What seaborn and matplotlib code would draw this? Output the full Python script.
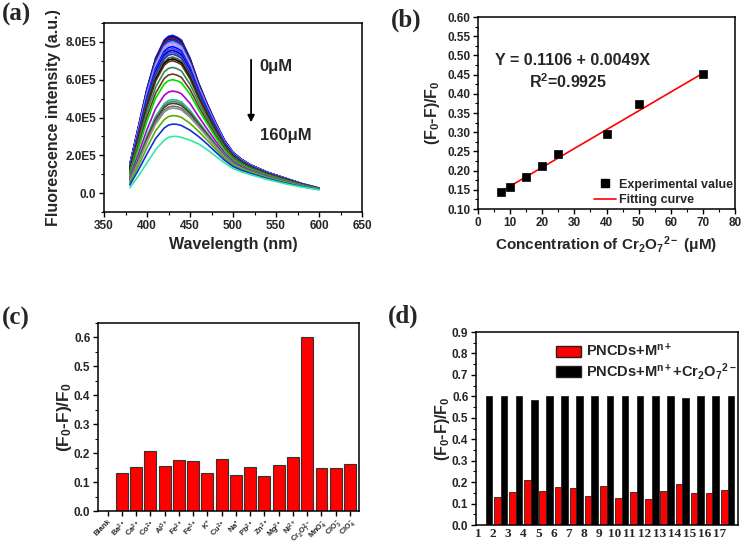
import numpy as np
import pandas as pd
import matplotlib
matplotlib.use('Agg')
import matplotlib.pyplot as plt
import seaborn as sns
from matplotlib.ticker import MultipleLocator, FixedLocator, FuncFormatter
from matplotlib.lines import Line2D
from matplotlib.patches import Patch

sns.set_theme(style='ticks')
plt.rcParams['font.family'] = ['Liberation Sans', 'DejaVu Sans']
plt.rcParams['font.weight'] = 'bold'
plt.rcParams['axes.labelweight'] = 'bold'
plt.rcParams['mathtext.fontset'] = 'custom'
plt.rcParams['mathtext.rm'] = 'Liberation Sans:bold'
plt.rcParams['mathtext.bf'] = 'Liberation Sans:bold'
plt.rcParams['mathtext.it'] = 'Liberation Sans:bold'
plt.rcParams['mathtext.default'] = 'bf'
plt.rcParams['xtick.direction'] = 'out'
plt.rcParams['ytick.direction'] = 'out'

# ---------------- data ----------------
# (a) emission spectra (intensity in units of 1E5)
wavelength = [380, 390, 400, 410, 420, 425, 430, 435, 440, 450, 460, 470, 480, 490, 500, 510, 520,
              540, 560, 580, 600]
spec_0uM = [1.5, 3.5, 5.5, 7.1, 8.05, 8.25, 8.3, 8.2, 8.05, 7.1, 5.8, 4.7, 3.7, 2.8, 2.15, 1.78, 1.5,
            1.1, 0.8, 0.5, 0.26]
spec_160uM = [0.28, 0.9, 1.6, 2.3, 2.8, 2.95, 3.0, 3.0, 2.95, 2.8, 2.6, 2.3, 1.95, 1.6, 1.3, 1.12, 0.98,
              0.72, 0.5, 0.32, 0.18]
peak_values = [8.35, 8.3, 8.25, 8.2, 8.15, 8.1, 8.05, 8.0, 7.95, 7.85, 7.75, 7.65, 7.55, 7.45, 7.35,
               7.2, 7.1, 7.0, 6.65, 6.3, 6.0, 5.4, 4.95, 4.85, 4.75, 4.6, 4.5, 4.1, 3.65, 3.0]
curve_colors = ['#1040C0', '#0000FF', '#000080', '#FF0000', '#0000CD', '#008000', '#2020FF', '#8080FF',
                '#9999FF', '#B0A0FF', '#0000FF', '#4040FF', '#0000A0', '#2050E0', '#3030C0', '#556B2F',
                '#000000', '#5C3317', '#2E8B57', '#6B3A1F', '#00E000', '#B000D0', '#10C0D0', '#6B8E23',
                '#404040', '#707070', '#909090', '#5AAE00', '#1030E0', '#30E8A8']

# (b) calibration
conc = [7, 10, 15, 20, 25, 40, 50, 70]
quench = [0.145, 0.158, 0.183, 0.211, 0.243, 0.295, 0.373, 0.452]
fit_intercept = 0.1106
fit_slope = 0.0049

# (c) selectivity
ions = ['Blank', 'Ba$^{2+}$', 'Ca$^{2+}$', 'Co$^{2+}$', 'Al$^{3+}$', 'Fe$^{2+}$', 'Fe$^{3+}$', 'K$^{+}$',
        'Cu$^{2+}$', 'Na$^{+}$', 'Pb$^{2+}$', 'Zn$^{2+}$', 'Mg$^{2+}$', 'Ni$^{2+}$',
        'Cr$_2$O$_7^{2-}$', 'MnO$_4^{-}$', 'ClO$_3^{-}$', 'ClO$_4^{-}$']
ion_values = [0.0, 0.131, 0.153, 0.209, 0.158, 0.177, 0.175, 0.133, 0.181, 0.127, 0.152, 0.121,
              0.159, 0.189, 0.601, 0.151, 0.150, 0.164]

# (d) interference
groups = [str(i) for i in range(1, 18)]
metal_only = [0.0, 0.131, 0.153, 0.209, 0.158, 0.177, 0.174, 0.133, 0.181, 0.127, 0.152, 0.121,
              0.159, 0.189, 0.151, 0.150, 0.164]
metal_cr = [0.601, 0.601, 0.601, 0.583, 0.601, 0.601, 0.601, 0.601, 0.601, 0.601, 0.601, 0.601,
            0.601, 0.593, 0.601, 0.601, 0.601]
series_names = ['PNCDs+M$^{n+}$', 'PNCDs+M$^{n+}$+Cr$_2$O$_7$$^{2-}$']

# ---------------- figure ----------------
fig = plt.figure(figsize=(7.44, 5.44), dpi=100)
axa = fig.add_axes([0.1398, 0.6103, 0.3468, 0.3474])
axb = fig.add_axes([0.6425, 0.6158, 0.3454, 0.3529])
axc = fig.add_axes([0.1317, 0.060, 0.3508, 0.3463])
axd = fig.add_axes([0.6398, 0.0349, 0.3522, 0.3548])

TICK_FS = 8.5
LABEL_FS = 11.5

def style(ax):
    for s in ax.spines.values():
        s.set_color('black')
        s.set_linewidth(1.1)
    ax.tick_params(which='major', length=3.5, width=1.0, color='black', labelsize=TICK_FS, pad=2)
    ax.tick_params(which='minor', length=2, width=0.8, color='black')
    for lab in ax.get_xticklabels() + ax.get_yticklabels():
        lab.set_fontweight('bold')

# (a)
rows = []
lo = np.array(spec_160uM)
hi = np.array(spec_0uM)
for k, pk in enumerate(peak_values):
    w = (pk - max(lo)) / (max(hi) - max(lo))
    vals = (lo + w * (hi - lo)) * 1e5
    for wl, v in zip(wavelength, vals):
        rows.append({'wavelength': wl, 'intensity': v, 'curve': k})
dfa = pd.DataFrame(rows)
sns.lineplot(data=dfa, x='wavelength', y='intensity', hue='curve', palette=curve_colors,
             legend=False, estimator=None, linewidth=1.2, ax=axa)
axa.set_xlim(350, 650)
axa.set_ylim(-1e5, 9e5)
axa.xaxis.set_major_locator(MultipleLocator(50))
axa.xaxis.set_minor_locator(MultipleLocator(25))
axa.yaxis.set_major_locator(FixedLocator([0, 2e5, 4e5, 6e5, 8e5]))
axa.yaxis.set_minor_locator(MultipleLocator(1e5))
axa.yaxis.set_major_formatter(FuncFormatter(lambda v, p: '0.0' if v == 0 else f'{v/1e5:.1f}E5'))
axa.set_xlabel('Wavelength (nm)', fontsize=LABEL_FS, fontweight='bold')
axa.set_ylabel('Fluorescence intensity (a.u.)', fontsize=LABEL_FS, fontweight='bold', labelpad=3)
axa.annotate('', xy=(521, 3.6e5), xytext=(521, 7.2e5),
             arrowprops=dict(arrowstyle='-|>', color='black', lw=1.3, mutation_scale=10))
axa.text(531, 6.7e5, '0μM', fontsize=12, fontweight='bold', va='center')
axa.text(531, 3.05e5, '160μM', fontsize=12, fontweight='bold', va='center')
style(axa)

# (b)
sns.scatterplot(x=conc, y=quench, marker='s', s=38, color='black', edgecolor='black',
                ax=axb, zorder=3)
fit_x = [conc[0], conc[-1]]
fit_y = [fit_intercept + fit_slope * x for x in fit_x]
sns.lineplot(x=fit_x, y=fit_y, color='red', linewidth=1.2, ax=axb, zorder=2)
axb.set_xlim(0, 80)
axb.set_ylim(0.10, 0.60)
axb.xaxis.set_major_locator(MultipleLocator(10))
axb.xaxis.set_minor_locator(MultipleLocator(5))
axb.yaxis.set_major_locator(MultipleLocator(0.05))
axb.yaxis.set_minor_locator(MultipleLocator(0.025))
axb.yaxis.set_major_formatter(FuncFormatter(lambda v, p: f'{v:.2f}'))
axb.set_xlabel('Concentration of Cr$_2$O$_7$$^{2-}$ (μM)', fontsize=11, fontweight='bold')
axb.set_ylabel('(F$_0$-F)/F$_0$', fontsize=LABEL_FS, fontweight='bold')
axb.text(5.3, 0.488, 'Y = 0.1106 + 0.0049X', fontsize=11.5, fontweight='bold', va='center')
axb.text(15.9, 0.431, 'R$^2$=0.9925', fontsize=11.5, fontweight='bold', va='center')
hb = [Line2D([], [], marker='s', color='black', linestyle='none', markersize=6),
      Line2D([], [], color='red', lw=1.2)]
axb.legend(hb, ['Experimental value', 'Fitting curve'], loc='lower right', bbox_to_anchor=(1.023, -0.025),
           frameon=False, prop={'weight': 'bold', 'size': 9}, handlelength=1.8, handletextpad=0.25,
           labelspacing=0.3, borderaxespad=0.2)
style(axb)

# (c)
sns.barplot(x=list(range(len(ions))), y=ion_values, color='#FF0000', saturation=1, width=0.84,
            edgecolor='#333333', linewidth=0.8, ax=axc, native_scale=True)
axc.set_xlim(-0.68, 17.63)
axc.set_ylim(0, 0.65)
axc.set_xticks(range(len(ions)))
axc.set_xticklabels(ions, rotation=45, ha='right', rotation_mode='anchor', fontsize=5.4,
                    fontweight='bold')
axc.yaxis.set_major_locator(MultipleLocator(0.1))
axc.yaxis.set_minor_locator(MultipleLocator(0.05))
axc.yaxis.set_major_formatter(FuncFormatter(lambda v, p: f'{v:.1f}'))
axc.set_ylabel('(F$_0$-F)/F$_0$', fontsize=12.5, fontweight='bold', labelpad=0)
axc.set_xlabel('')
style(axc)
axc.tick_params(axis='x', labelsize=5.4, pad=1)

# (d)
dfd = pd.DataFrame({'group': groups * 2,
                    'value': metal_only + metal_cr,
                    'series': [series_names[0]] * 17 + [series_names[1]] * 17})
sns.barplot(data=dfd, x='group', y='value', hue='series', order=groups, hue_order=series_names,
            palette=['#FF0000', '#000000'], saturation=1, width=0.88, edgecolor='#222222',
            linewidth=0.6, ax=axd, legend=False)
axd.set_xlim(-0.63, 16.69)
axd.set_ylim(0, 0.9)
axd.set_xticks(np.arange(17) - 0.5)
axd.set_xticklabels(groups, fontfamily='Liberation Serif', fontweight='bold', fontsize=9.5)
axd.yaxis.set_major_locator(MultipleLocator(0.1))
axd.yaxis.set_minor_locator(MultipleLocator(0.05))
axd.yaxis.set_major_formatter(FuncFormatter(lambda v, p: f'{v:.1f}'))
axd.set_ylabel('(F$_0$-F)/F$_0$', fontsize=LABEL_FS, fontweight='bold', labelpad=0)
axd.set_xlabel('')
hd = [Patch(facecolor='#FF0000', edgecolor='#222222'), Patch(facecolor='#000000', edgecolor='#222222')]
axd.legend(hd, series_names, loc='upper right', bbox_to_anchor=(1.035, 1.0), frameon=False,
           prop={'weight': 'bold', 'size': 10.5}, handlelength=1.7, handleheight=0.85,
           labelspacing=0.1, borderaxespad=0.3, handletextpad=0.4)
style(axd)
axd.tick_params(axis='x', length=0)
for lab in axd.get_xticklabels():
    lab.set_fontfamily('Liberation Serif')
    lab.set_fontsize(9.5)

# panel labels
for x, y, t in [(0.002, 0.995, '(a)'), (0.525, 0.985, '(b)'), (0.002, 0.435, '(c)'), (0.522, 0.44, '(d)')]:
    fig.text(x, y, t, fontsize=18, fontweight='bold', fontfamily='Liberation Serif', va='top', ha='left')

fig.savefig('out.png', dpi=100)
